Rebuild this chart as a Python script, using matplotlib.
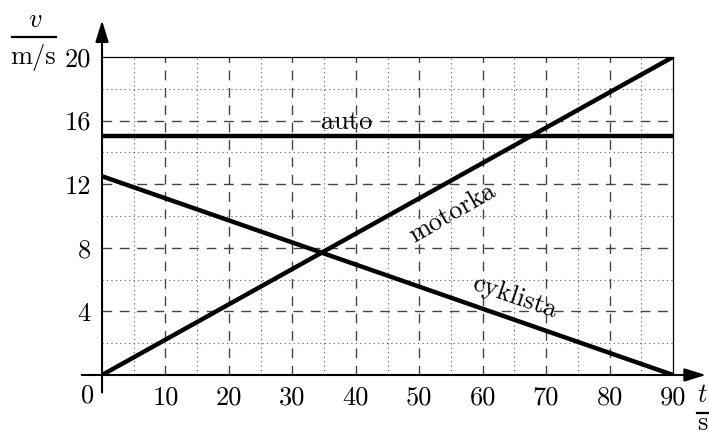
import numpy as np
import matplotlib.pyplot as plt

plt.rcParams['font.family'] = 'serif'
plt.rcParams['font.serif'] = ['cmr10', 'DejaVu Serif']
plt.rcParams['mathtext.fontset'] = 'cm'
plt.rcParams['axes.formatter.use_mathtext'] = True

# data (t in s, v in m/s)
t_auto = [0, 90]
v_auto = [15, 15]
t_moto = [0, 90]
v_moto = [0, 20]
t_cykl = [0, 90]
v_cykl = [12.5, 0]

x_ticks = [10, 20, 30, 40, 50, 60, 70, 80, 90]
y_ticks = [4, 8, 12, 16, 20]

fig = plt.figure(figsize=(7.09, 4.37), dpi=100)
ax = fig.add_axes([0.1439, 0.1419, 0.8053, 0.7277])
ax.set_xlim(0, 90)
ax.set_ylim(0, 20)

# grid: dashed major, dotted minor
dash = (0, (7, 5.5))
dot = (0, (1, 3))
for x in range(10, 90, 10):
    ax.axvline(x, color='#444444', lw=1.0, ls=dash, zorder=1)
for x in range(5, 90, 10):
    ax.axvline(x, color='#555555', lw=0.8, ls=dot, zorder=1)
for y in range(4, 20, 4):
    ax.axhline(y, color='#444444', lw=1.0, ls=dash, zorder=1)
for y in range(2, 20, 4):
    ax.axhline(y, color='#555555', lw=0.8, ls=dot, zorder=1)

ax.plot(t_auto, v_auto, color='black', lw=3.2, solid_capstyle='butt', zorder=3)
ax.plot(t_moto, v_moto, color='black', lw=3.2, solid_capstyle='round', zorder=3)
ax.plot(t_cykl, v_cykl, color='black', lw=3.2, solid_capstyle='round', zorder=3)

for s in ['left', 'bottom']:
    ax.spines[s].set_visible(False)
ax.spines['top'].set_linewidth(0.9)
ax.spines['right'].set_linewidth(0.9)

# axes with arrows
arrow = dict(arrowstyle='-|>,head_length=1.3,head_width=0.4',
             color='black', lw=1.5, shrinkA=0, shrinkB=0)
ax.annotate('', xy=(95.2, 0), xytext=(-3.2, 0), arrowprops=arrow,
            annotation_clip=False, zorder=4)
ax.annotate('', xy=(0, 22.3), xytext=(0, -1.1), arrowprops=arrow,
            annotation_clip=False, zorder=4)

ax.set_xticks(x_ticks)
ax.set_yticks(y_ticks)
ax.tick_params(length=0, labelsize=19, pad=8)
ax.set_xticklabels([str(v) for v in x_ticks])
ax.set_yticklabels([str(v) for v in y_ticks])
ax.text(-1.2, -0.55, '0', ha='right', va='top', fontsize=19)

# axis labels as fractions
ax.text(-10.6, 22.3, r'$v$', ha='center', va='center', fontsize=19)
ax.plot([-14.2, -7.25], [21.26, 21.26], color='black', lw=1.6, clip_on=False)
ax.text(-10.9, 19.94, 'm/s', ha='center', va='center', fontsize=19)
ax.text(94.7, -1.26, r'$t$', ha='center', va='center', fontsize=19)
ax.plot([93.8, 95.7], [-2.39, -2.39], color='black', lw=1.6, clip_on=False)
ax.text(94.7, -3.05, 's', ha='center', va='center', fontsize=19)

# line labels
ax.text(38.6, 15.15, 'auto', ha='center', va='bottom', fontsize=19)
ax.text(55.3, 10.2, 'motorka', ha='center', va='center', fontsize=19, rotation=30)
ax.text(65.0, 4.9, 'cyklista', ha='center', va='center', fontsize=19, rotation=-19)

fig.savefig('out.png', dpi=100)
